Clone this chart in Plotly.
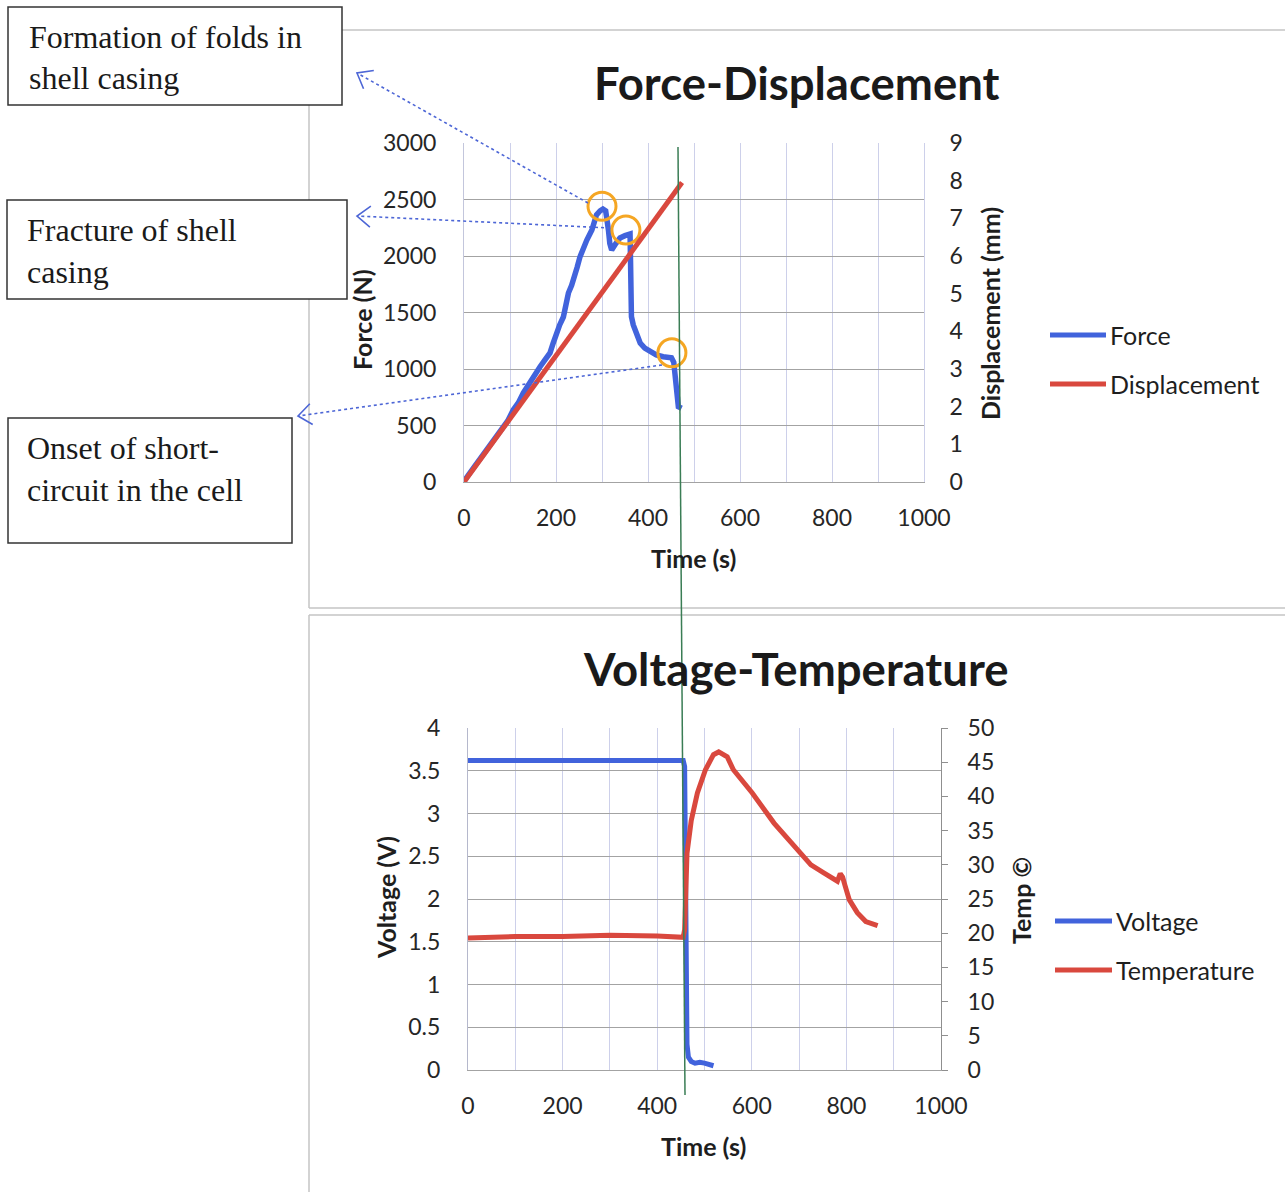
import math
import plotly.graph_objects as go

W, H = 1285, 1192

# ---- Crush test: force / displacement vs time ----
force_time = [0, 2, 20, 42, 60, 82, 95, 107, 118, 129, 138, 147, 156, 165, 176, 187,
              194, 201, 208, 216, 222, 227, 234, 241, 246, 252, 259, 267, 278, 288,
              296, 302, 308, 311, 314, 317, 321, 330, 339, 350, 361, 362, 363, 364,
              368, 374, 383, 393, 404, 418, 433, 451, 456, 459, 461, 466, 473]
force_n = [0, 18, 120, 240, 330, 460, 540, 637, 700, 788, 850, 903, 960, 1018, 1080, 1142,
           1230, 1319, 1390, 1460, 1580, 1672, 1740, 1814, 1900, 1991, 2068, 2141, 2230, 2363,
           2400, 2416, 2400, 2330, 2230, 2110, 2053, 2110, 2159, 2180, 2195, 1960, 1640, 1463,
           1390, 1318, 1230, 1185, 1153, 1125, 1109, 1100, 1060, 932, 755, 666, 652]
disp_time = [0, 474]
disp_mm = [0, 7.95]
event_time = [300, 352, 452]
event_force = [2440, 2230, 1144]

# ---- Cell voltage / surface temperature vs time ----
volt_time = [0, 100, 200, 300, 400, 455, 458, 460, 462, 463, 466, 472, 480, 490, 500, 510, 519]
volt_v = [3.62, 3.62, 3.62, 3.62, 3.62, 3.62, 3.55, 2.5, 1.0, 0.3, 0.15, 0.1, 0.08, 0.09, 0.08, 0.07, 0.05]
temp_time = [0, 100, 200, 300, 400, 455, 458, 460, 463, 472, 485, 502, 519, 530, 548, 561,
             601, 647, 700, 725, 753, 781, 787, 792, 797, 806, 823, 841, 866]
temp_c = [19.3, 19.5, 19.5, 19.7, 19.6, 19.4, 20.5, 26.8, 31.7, 36.5, 40.5, 43.9, 46.1, 46.5,
          45.8, 43.9, 40.5, 36.1, 31.9, 30.0, 28.8, 27.6, 28.7, 28.2, 27.0, 24.9, 23.0, 21.7, 21.1]

time_ticks = [0, 200, 400, 600, 800, 1000]

BLUE = "#4163dc"
RED = "#d9483e"
ORANGE = "#f5a623"
GRID_MAJOR = "#a3a3a3"
GRID_MINOR = "#cdd0ea"
TICK_FONT = dict(family="Lato", size=23, color="#262626")
TITLE_FONT = dict(family="Lato", size=25, color="#1e1e1e")


def px(x):
    return x / W


def py(y):
    return 1 - y / H


fig = go.Figure()

fig.add_trace(go.Scatter(x=force_time, y=force_n, mode="lines", name="Force",
                         line=dict(color=BLUE, width=5.5), xaxis="x", yaxis="y"))
fig.add_trace(go.Scatter(x=event_time, y=event_force, mode="markers", name="Events",
                         marker=dict(symbol="circle-open", size=28, color=ORANGE,
                                     line=dict(width=3, color=ORANGE)),
                         xaxis="x", yaxis="y"))
fig.add_trace(go.Scatter(x=disp_time, y=disp_mm, mode="lines", name="Displacement",
                         line=dict(color=RED, width=5), xaxis="x", yaxis="y2"))
fig.add_trace(go.Scatter(x=volt_time, y=volt_v, mode="lines", name="Voltage",
                         line=dict(color=BLUE, width=5), xaxis="x2", yaxis="y3"))
fig.add_trace(go.Scatter(x=temp_time, y=temp_c, mode="lines", name="Temperature",
                         line=dict(color=RED, width=5), xaxis="x2", yaxis="y4"))

time_axis = dict(range=[0, 1000], tickvals=time_ticks, tickfont=TICK_FONT,
                 showgrid=True, gridcolor=GRID_MINOR, gridwidth=1,
                 minor=dict(dtick=100, tick0=0, showgrid=True, gridcolor=GRID_MINOR, gridwidth=1),
                 showline=True, linecolor=GRID_MAJOR, linewidth=1.3,
                 zeroline=False, ticks="", ticklabelstandoff=15, fixedrange=True,
                 automargin=False)

fig.update_layout(
    width=W, height=H,
    margin=dict(l=0, r=0, t=0, b=0, autoexpand=False),
    paper_bgcolor="white", plot_bgcolor="white",
    showlegend=False,
    xaxis=dict(time_axis, domain=[px(464), px(924)], anchor="y"),
    yaxis=dict(domain=[py(482), py(143)], anchor="x", range=[0, 3000], dtick=500,
               tickfont=TICK_FONT, showgrid=True, gridcolor=GRID_MAJOR, gridwidth=1.3,
               showline=True, linecolor="#c3c6dc", zeroline=False,
               ticklabelstandoff=22, automargin=False),
    yaxis2=dict(overlaying="y", side="right", anchor="x", range=[0, 9], dtick=1,
                tickfont=TICK_FONT, showgrid=False, showline=True, linecolor=GRID_MINOR,
                zeroline=False, ticklabelstandoff=20, automargin=False),
    xaxis2=dict(time_axis, domain=[px(468), px(941)], anchor="y3"),
    yaxis3=dict(domain=[py(1070), py(728)], anchor="x2", range=[0, 4], dtick=0.5,
                tickfont=TICK_FONT, showgrid=True, gridcolor=GRID_MAJOR, gridwidth=1.3,
                showline=True, linecolor="#b5b8cc", zeroline=False,
                ticklabelstandoff=22, automargin=False),
    yaxis4=dict(overlaying="y3", side="right", anchor="x2", range=[0, 50], dtick=5,
                tickfont=TICK_FONT, showgrid=False, showline=True, linecolor="#8f8f8f",
                ticks="outside", ticklen=6, tickcolor="#8f8f8f", zeroline=False,
                ticklabelstandoff=15, automargin=False),
)

shapes = []
annotations = []

# chart panel frames
FRAME = "#c4c4c4"
for (x0, y0, x1, y1) in [(309, 30, 1285, 30), (309, 30, 309, 608), (309, 608, 1285, 608),
                         (309, 615, 1285, 615), (309, 615, 309, 1192)]:
    shapes.append(dict(type="line", xref="paper", yref="paper",
                       x0=px(x0), y0=py(y0), x1=px(x1), y1=py(y1),
                       line=dict(color=FRAME, width=1.5), layer="below"))


def text(x, y, s, font, xanchor="center", yanchor="middle", angle=0):
    annotations.append(dict(x=px(x), y=py(y), xref="paper", yref="paper", text=s,
                            showarrow=False, font=font, xanchor=xanchor, yanchor=yanchor,
                            textangle=angle))


# chart titles
TITLE = dict(family="Lato", size=45.5, color="#1a1a1a")
text(797, 82, "<b>Force-Displacement</b>", TITLE)
text(796, 668, "<b>Voltage-Temperature</b>", TITLE)

# axis titles
text(362, 320, "<b>Force (N)</b>", TITLE_FONT, angle=-90)
text(990, 314, "<b>Displacement (mm)</b>", TITLE_FONT, angle=-90)
text(693, 558, "<b>Time (s)</b>", TITLE_FONT)
text(386, 898, "<b>Voltage (V)</b>", TITLE_FONT, angle=-90)
text(1021, 900, "<b>Temp ©</b>", TITLE_FONT, angle=-90)
text(703, 1146, "<b>Time (s)</b>", TITLE_FONT)

# legends
LEG_FONT = dict(family="Lato", size=25, color="#1e1e1e")
for (lx0, lx1, ly, color, label) in [(1050, 1106, 335, BLUE, "Force"),
                                     (1050, 1106, 384, RED, "Displacement"),
                                     (1055, 1112, 921, BLUE, "Voltage"),
                                     (1055, 1112, 970, RED, "Temperature")]:
    shapes.append(dict(type="line", xref="paper", yref="paper",
                       x0=px(lx0), y0=py(ly), x1=px(lx1), y1=py(ly),
                       line=dict(color=color, width=5)))
    text(lx1 + 2, ly, label, LEG_FONT, xanchor="left")

# event text boxes
BOX_FONT = dict(family="Liberation Serif", size=32, color="#1a1a1a")
boxes = [((8, 7, 342, 105), [(27, 37, "Formation of folds in"), (27, 78, "shell casing")]),
         ((7, 200, 347, 299), [(25, 230, "Fracture of shell"), (25, 272, "casing")]),
         ((8, 418, 292, 543), [(25, 448, "Onset of short-"), (25, 490, "circuit in the cell")])]
for (bx0, by0, bx1, by1), lines in boxes:
    shapes.append(dict(type="rect", xref="paper", yref="paper",
                       x0=px(bx0), y0=py(by1), x1=px(bx1), y1=py(by0),
                       line=dict(color="#333333", width=1.5), fillcolor="white"))
    for (tx, ty, s) in lines:
        text(tx, ty, s, BOX_FONT, xanchor="left")

# dotted leader arrows from the events to the boxes
ARROW = "#4d66d6"
leaders = [((588, 203), (357, 73)), ((610, 228), (357, 216)), ((662, 365), (298, 416))]
for (tail, tip) in leaders:
    shapes.append(dict(type="line", xref="paper", yref="paper",
                       x0=px(tail[0]), y0=py(tail[1]), x1=px(tip[0]), y1=py(tip[1]),
                       line=dict(color=ARROW, width=1.6, dash="dot")))
    dx, dy = tail[0] - tip[0], tail[1] - tip[1]
    n = math.hypot(dx, dy)
    ux, uy = dx / n, dy / n
    arms = []
    for a in (math.radians(38), -math.radians(38)):
        rx = ux * math.cos(a) - uy * math.sin(a)
        ry = ux * math.sin(a) + uy * math.cos(a)
        arms.append((tip[0] + 17 * rx, tip[1] + 17 * ry))
    path = "M {:.5f},{:.5f} L {:.5f},{:.5f} L {:.5f},{:.5f}".format(
        px(arms[0][0]), py(arms[0][1]), px(tip[0]), py(tip[1]), px(arms[1][0]), py(arms[1][1]))
    shapes.append(dict(type="path", xref="paper", yref="paper", path=path,
                       line=dict(color=ARROW, width=1.6)))

# vertical marker of the short-circuit instant across both charts
shapes.append(dict(type="line", xref="paper", yref="paper",
                   x0=px(678), y0=py(147), x1=px(685), y1=py(1095),
                   line=dict(color="#3a7d55", width=1.5)))

fig.update_layout(shapes=shapes, annotations=annotations)

fig.write_html("out.html")
